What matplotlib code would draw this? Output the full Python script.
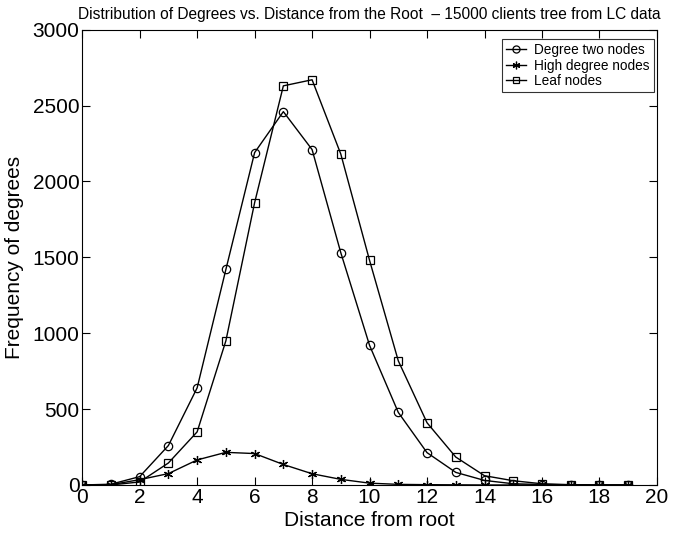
import matplotlib
matplotlib.use("Agg")
import matplotlib.pyplot as plt

# data
distance = list(range(20))
degree_two = [0, 5, 55, 260, 640, 1420, 2190, 2460, 2210, 1530,
              920, 478, 213, 83, 30, 8, 3, 1, 0, 0]
high_degree = [0, 2, 35, 75, 165, 215, 207, 135, 74, 37,
               12, 4, 2, 1, 0, 0, 0, 0, 0, 0]
leaf = [0, 0, 20, 145, 350, 950, 1860, 2630, 2670, 2180,
        1480, 818, 410, 184, 61, 28, 8, 2, 0, 0]

plt.rcParams['font.family'] = ['Liberation Sans', 'DejaVu Sans']

fig = plt.figure(figsize=(6.85, 5.35), dpi=100)
ax = fig.add_axes([0.12, 0.0935, 0.839, 0.851])

ax.plot(distance, degree_two, color='black', linewidth=1.0, marker='o',
        markersize=6, markerfacecolor='none', markeredgewidth=0.9, label='Degree two nodes')
ax.plot(distance, high_degree, color='black', linewidth=1.0, marker=(6, 2, 0),
        markersize=6.5, markeredgewidth=0.9, label='High degree nodes')
ax.plot(distance, leaf, color='black', linewidth=1.0, marker='s',
        markersize=5.2, markerfacecolor='none', markeredgewidth=0.9, label='Leaf nodes')

ax.set_xlim(0, 20)
ax.set_ylim(0, 3000)
ax.set_xticks(range(0, 21, 2))
ax.set_yticks(range(0, 3001, 500))
ax.tick_params(direction='in', top=True, right=True, labelsize=15, length=6, pad=2)
for s in ax.spines.values():
    s.set_linewidth(0.8)

ax.set_xlabel('Distance from root', fontsize=15, labelpad=3)
ax.set_ylabel('Frequency of degrees', fontsize=15, labelpad=6)
ax.set_title('Distribution of Degrees vs. Distance from the Root  \u2013 15000 clients tree from LC data',
             fontsize=11.2, pad=8)

leg = ax.legend(loc='upper right', bbox_to_anchor=(0.995, 0.98), fontsize=9.8,
                frameon=True, fancybox=False, edgecolor='black', borderpad=0.3,
                handlelength=1.5, handletextpad=0.6, labelspacing=0.12,
                borderaxespad=0, markerscale=0.85)
leg.get_frame().set_linewidth(0.8)

fig.savefig('out.png', dpi=100)
